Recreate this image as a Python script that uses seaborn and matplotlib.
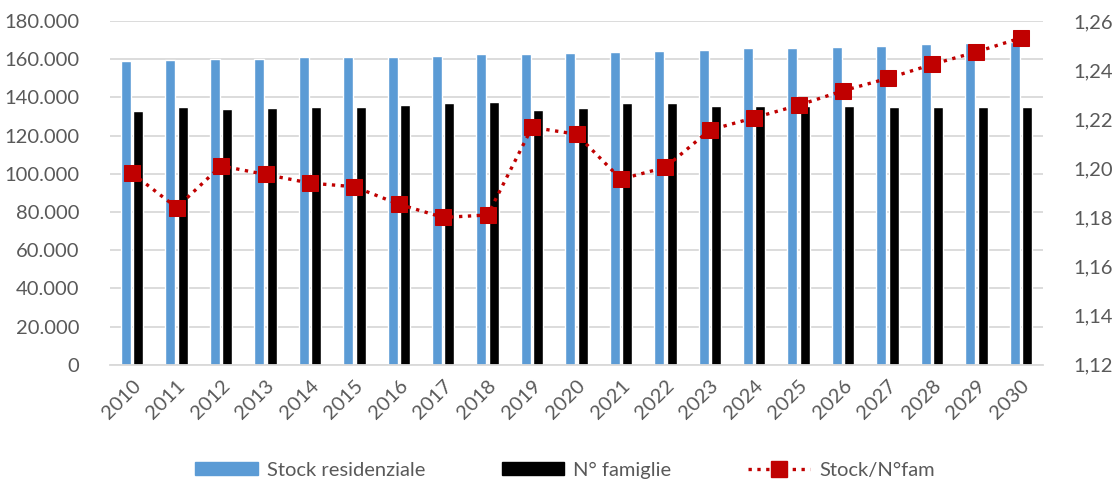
import numpy as np
import pandas as pd
import seaborn as sns
import matplotlib.pyplot as plt
from matplotlib.ticker import FuncFormatter, MultipleLocator
from matplotlib.patches import Patch
from matplotlib.lines import Line2D


sns.set_theme(style="white")
plt.rcParams['font.family'] = ['Lato', 'DejaVu Sans']

years = [str(y) for y in range(2010, 2031)]
stock = [159000, 159800, 160000, 160300, 161000, 161000, 161000, 161700, 162600, 162600,
         163100, 163600, 164500, 165000, 165700, 165700, 166400, 167100, 167800, 168300, 168900]
famiglie = [132900, 134800, 133800, 134300, 134800, 134800, 136200, 136900, 137600, 133600,
            134300, 136900, 136900, 135500, 135500, 135500, 135500, 134800, 134800, 134800, 134800]
ratio = [1.198, 1.184, 1.201, 1.1975, 1.194, 1.1925, 1.1854, 1.180, 1.181, 1.2167,
         1.2139, 1.1956, 1.2004, 1.2156, 1.2206, 1.2257, 1.2316, 1.2366, 1.2423, 1.2474, 1.2531]

df = pd.DataFrame({
    'anno': years * 2,
    'valore': stock + famiglie,
    'serie': ['Stock residenziale'] * len(years) + ['N° famiglie'] * len(years),
})

grey = '#595959'
fs = 14.5
fig = plt.figure(figsize=(11.19, 4.86), dpi=100)
ax = fig.add_axes([0.0983, 0.2494, 0.8338, 0.7074])

sns.barplot(data=df, x='anno', y='valore', hue='serie', ax=ax,
            palette=['#5b9bd5', '#000000'], width=0.56, gap=0.2,
            saturation=1, legend=False)

ax.set_xlim(-0.5, len(years) - 0.5)
ax.set_ylim(0, 180000)
ax.yaxis.set_major_locator(MultipleLocator(20000))
ax.yaxis.set_major_formatter(FuncFormatter(lambda v, p: f"{int(v):,}".replace(',', '.')))
ax.grid(axis='y', color='#d9d9d9', linewidth=1.3)
ax.set_axisbelow(True)
for s in ['top', 'left', 'right']:
    ax.spines[s].set_visible(False)
ax.spines['bottom'].set_color('#d9d9d9')
ax.spines['bottom'].set_linewidth(1.3)
ax.set_xlabel('')
ax.set_ylabel('')
ax.tick_params(axis='y', labelsize=fs, colors=grey, length=0, pad=22)
ax.tick_params(axis='x', labelsize=fs, colors=grey, length=0, pad=9)
plt.setp(ax.get_xticklabels(), rotation=45, ha='right', rotation_mode='anchor')

ax2 = ax.twinx()
sns.lineplot(x=np.arange(len(years)), y=ratio, ax=ax2, color='#c00000',
             linestyle=':', linewidth=2.4, marker='s', markersize=11,
             markeredgecolor='#c00000')
ax2.set_ylim(1.12, 1.26)
ax2.yaxis.set_major_locator(MultipleLocator(0.02))
ax2.yaxis.set_major_formatter(FuncFormatter(lambda v, p: f"{v:.2f}".replace('.', ',')))
ax2.tick_params(axis='y', labelsize=fs, colors=grey, length=0, pad=22)
for s in ['top', 'left', 'right', 'bottom']:
    ax2.spines[s].set_visible(False)
ax2.set_ylabel('')

handles = [Patch(color='#5b9bd5'), Patch(color='#000000'),
           Line2D([], [], color='#c00000', linestyle=':', linewidth=2.4,
                  marker='s', markersize=11)]
labels = ['Stock residenziale', 'N° famiglie', 'Stock/N°fam']
fig.legend(handles, labels, loc='center', bbox_to_anchor=(0.505, 0.033), ncol=3,
           frameon=False, fontsize=fs, labelcolor=grey, handlelength=3.1,
           handleheight=0.6, columnspacing=3.8, handletextpad=0.45)

fig.savefig('out.png', dpi=100)
